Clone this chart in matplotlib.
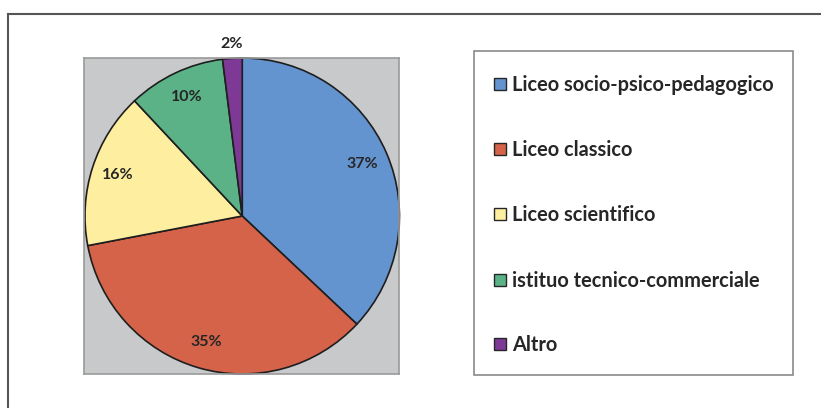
import numpy as np
import matplotlib.pyplot as plt
from matplotlib.patches import Rectangle
from matplotlib.lines import Line2D

categories = ["Liceo socio-psico-pedagogico", "Liceo classico", "Liceo scientifico",
              "istituo tecnico-commerciale", "Altro"]
values = [37, 35, 16, 10, 2]
colors = ["#6494CF", "#D5634A", "#FEEE9F", "#5CB287", "#7D3995"]

plt.rcParams['font.family'] = ['Lato', 'DejaVu Sans']
txt_color = "#262626"

W, H = 821, 408
fig = plt.figure(figsize=(W / 100, H / 100), dpi=100)
fig.patch.set_facecolor("white")

# outer frame: only top and left lines visible
fig.add_artist(Line2D([8 / W, 1], [1 - 14 / H, 1 - 14 / H], color="#555555", lw=1.5))
fig.add_artist(Line2D([8 / W, 8 / W], [0, 1 - 14 / H], color="#555555", lw=1.5))

# pie area (gray plot area)
x0, x1, y0, y1 = 84, 399, 58, 374
ax = fig.add_axes([x0 / W, 1 - y1 / H, (x1 - x0) / W, (y1 - y0) / H])
ax.set_facecolor("#C8C9CB")
for s in ax.spines.values():
    s.set_color("#9A9A9A")
    s.set_linewidth(1.2)
ax.set_xticks([])
ax.set_yticks([])

r = 158 / ((x1 - x0) / 2)
wedges, _ = ax.pie(values, colors=colors, startangle=90, counterclock=False,
                   radius=r, center=(0, 0), frame=True,
                   wedgeprops=dict(edgecolor="#1E1E1E", linewidth=1.2))
ax.set_xlim(-158 / 157.5 * r - 0.003, 157 / 157.5 * r)
ax.set_ylim(-r, r)
ax.set_aspect("auto")

for w, v in zip(wedges, values):
    mid = np.deg2rad((w.theta1 + w.theta2) / 2)
    d = 1.09 if v < 5 else 0.83
    ax.text(d * r * np.cos(mid), d * r * np.sin(mid), f"{v}%",
            ha="center", va="center", fontsize=11.5, fontweight="bold",
            color=txt_color, clip_on=False)

# legend box
lx0, lx1, ly0, ly1 = 474, 793, 51, 375
fig.add_artist(Rectangle((lx0 / W, 1 - ly1 / H), (lx1 - lx0) / W, (ly1 - ly0) / H,
                         transform=fig.transFigure, facecolor="white",
                         edgecolor="#8A8A8A", lw=1.2))
ys = [85, 150, 215, 281, 345]
for cat, c, y in zip(categories, colors, ys):
    fig.add_artist(Rectangle((494 / W, 1 - (y + 5) / H), 12 / W, 12 / H,
                             transform=fig.transFigure, facecolor=c,
                             edgecolor="#262626", lw=1.0))
    fig.text(512 / W, 1 - y / H, cat, ha="left", va="center", fontsize=14.4,
             fontweight="bold", color=txt_color)

fig.savefig("out.png", dpi=100)
